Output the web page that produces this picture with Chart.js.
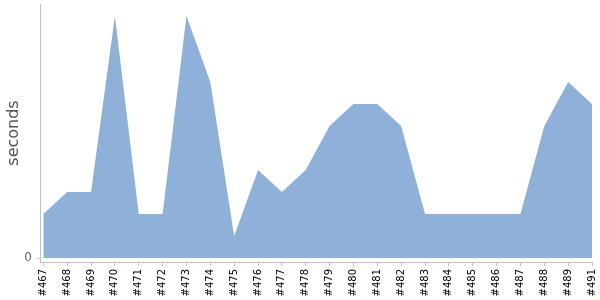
<!DOCTYPE html>
<html>
<head>
<meta charset="utf-8">
<script src="https://cdn.jsdelivr.net/npm/chart.js@4/dist/chart.umd.min.js"></script>
<style>
html,body{margin:0;padding:0;background:#fff;}
#wrap{width:600px;height:300px;position:relative;}
</style>
</head>
<body>
<div id="wrap"><canvas id="c" width="600" height="300"></canvas></div>
<script>
const categories = ["#467","#468","#469","#470","#471","#472","#473","#474","#475","#476","#477","#478","#479","#480","#481","#482","#483","#484","#485","#486","#487","#488","#489","#491"];
const seconds = [2,3,3,11,2,2,11,8,1,4,3,4,6,7,7,6,2,2,2,2,2,6,8,7];
const yTicks = [0];

const points = seconds.map((v,i)=>({x:i,y:v}));

new Chart(document.getElementById('c'), {
  type: 'line',
  data: {
    datasets: [{
      data: points,
      fill: 'origin',
      backgroundColor: 'rgb(143,177,217)',
      borderColor: 'rgb(143,177,217)',
      borderWidth: 0,
      pointRadius: 0,
      tension: 0
    }]
  },
  options: {
    responsive: false,
    animation: false,
    events: [],
    layout: { padding: { top: 4, right: 8, left: 0, bottom: 0 } },
    plugins: { legend: { display: false }, tooltip: { enabled: false } },
    scales: {
      x: {
        type: 'linear',
        min: -0.14,
        max: 23,
        afterBuildTicks: s => { s.ticks = categories.map((_,i)=>({value:i})); },
        afterFit: s => { s.height = 38; s.paddingLeft = 0; s.paddingRight = 0; },
        ticks: {
          autoSkip: false,
          minRotation: 90,
          maxRotation: 90,
          padding: 3,
          color: '#000',
          font: { family: 'DejaVu Sans', size: 10 },
          callback: v => categories[v]
        },
        grid: { display: true, drawOnChartArea: false, tickLength: 4, color: '#c0c0c0' },
        border: { display: true, color: '#c0c0c0' }
      },
      y: {
        min: -0.18,
        max: 11.545,
        afterBuildTicks: s => { s.ticks = yTicks.map(v=>({value:v})); },
        afterFit: s => { s.width = 40; s.paddingTop = 0; s.paddingBottom = 0; },
        ticks: {
          padding: 5,
          color: '#666',
          font: { family: 'DejaVu Sans', size: 12 }
        },
        grid: { display: true, drawOnChartArea: false, tickLength: 3, color: '#c0c0c0' },
        border: { display: true, color: '#c0c0c0' },
        title: {
          display: true,
          text: 'seconds',
          color: '#555',
          font: { family: 'DejaVu Sans', size: 16 },
          padding: { top: 4, bottom: 0 }
        }
      }
    }
  }
});
</script>
</body>
</html>
